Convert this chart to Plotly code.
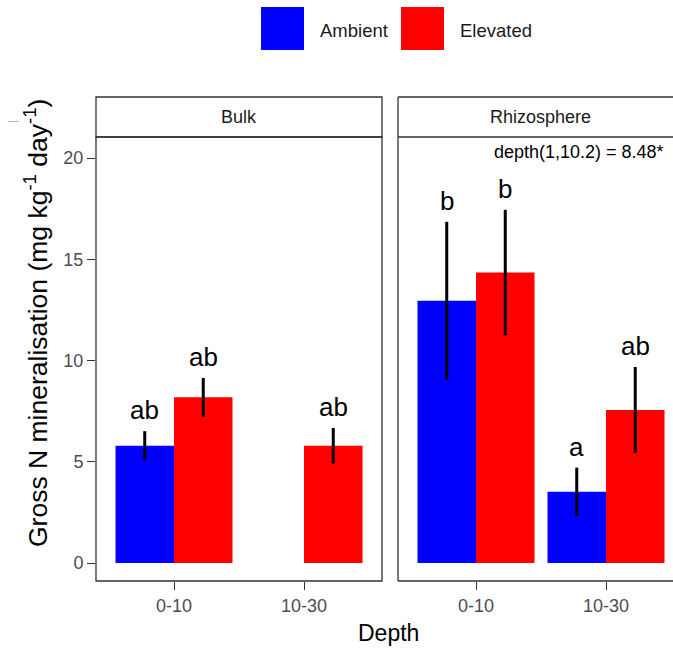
import plotly.graph_objects as go

W, H = 673, 650
FONT = "Liberation Sans"

depths = ["0-10", "10-30"]
treatments = ["Ambient", "Elevated"]
colors = {"Ambient": "#0000FF", "Elevated": "#FF0000"}

bulk_ambient = [5.79, None]
bulk_ambient_se = [0.72, None]
bulk_elevated = [8.18, 5.79]
bulk_elevated_se = [0.96, 0.88]
rhizo_ambient = [12.95, 3.52]
rhizo_ambient_se = [3.90, 1.19]
rhizo_elevated = [14.34, 7.56]
rhizo_elevated_se = [3.10, 2.12]

bulk_ambient_lab = ["ab", ""]
bulk_elevated_lab = ["ab", "ab"]
rhizo_ambient_lab = ["b", "a"]
rhizo_elevated_lab = ["b", "ab"]

facets = ["Bulk", "Rhizosphere"]
stat_text = "depth(1,10.2) = 8.48*"
y_ticks = [0, 5, 10, 15, 20]


def px(x):
    return x / W


def py(y):
    return 1 - y / H


fig = go.Figure()

panels = [
    ("x", "y", [(bulk_ambient, bulk_ambient_se, bulk_ambient_lab, "Ambient"),
                (bulk_elevated, bulk_elevated_se, bulk_elevated_lab, "Elevated")]),
    ("x2", "y2", [(rhizo_ambient, rhizo_ambient_se, rhizo_ambient_lab, "Ambient"),
                  (rhizo_elevated, rhizo_elevated_se, rhizo_elevated_lab, "Elevated")]),
]

annotations = []
for xa, ya, series in panels:
    for vals, se, labs, name in series:
        fig.add_trace(go.Bar(
            x=depths, y=vals, name=name, xaxis=xa, yaxis=ya,
            marker=dict(color=colors[name], line=dict(width=0)),
            error_y=dict(type="data", array=se, visible=True, color="black",
                         thickness=3, width=0),
            showlegend=False, offsetgroup=name, hoverinfo="skip",
        ))
        shift = -29.25 if name == "Ambient" else 29.25
        for d, v, e, lab in zip(depths, vals, se, labs):
            if v is None or not lab:
                continue
            annotations.append(dict(
                x=d, y=v + e, xref=xa, yref=ya, text=lab, showarrow=False,
                xshift=shift, yshift=4, yanchor="bottom", xanchor="center",
                font=dict(family=FONT, size=26, color="black"),
            ))

# stat annotation in rhizosphere panel
annotations.append(dict(
    x=0.79, y=20.3, xref="x2", yref="y2", text=stat_text, showarrow=False,
    xanchor="center", yanchor="middle",
    font=dict(family=FONT, size=18, color="black"),
))

# strip labels
annotations.append(dict(x=px(239), y=py(117), xref="paper", yref="paper",
                        text=facets[0], showarrow=False,
                        xanchor="center", yanchor="middle",
                        font=dict(family=FONT, size=18, color="#1A1A1A")))
annotations.append(dict(x=px(540), y=py(117), xref="paper", yref="paper",
                        text=facets[1], showarrow=False,
                        xanchor="center", yanchor="middle",
                        font=dict(family=FONT, size=18, color="#1A1A1A")))

# axis titles
annotations.append(dict(x=px(36), y=py(323), xref="paper", yref="paper",
                        text="Gross N mineralisation (mg kg<sup>-1</sup> day<sup>-1</sup>)",
                        textangle=-90, showarrow=False,
                        xanchor="center", yanchor="middle",
                        font=dict(family=FONT, size=26.5, color="black")))
annotations.append(dict(x=px(389), y=py(633), xref="paper", yref="paper",
                        text="Depth", showarrow=False,
                        xanchor="center", yanchor="middle",
                        font=dict(family=FONT, size=23, color="black")))

# legend
legend_items = [("Ambient", 261, 318), ("Elevated", 401, 458)]
shapes = []
for name, x0, tx in legend_items:
    shapes.append(dict(type="rect", xref="paper", yref="paper",
                       x0=px(x0), x1=px(x0 + 43), y0=py(50), y1=py(7),
                       fillcolor=colors[name], line=dict(width=0)))
    annotations.append(dict(x=px(tx), y=py(30), xref="paper", yref="paper",
                            text=name, showarrow=False, xanchor="left",
                            yanchor="middle",
                            font=dict(family=FONT, size=18.5, color="#1A1A1A")))

BORDER = "#333333"
# left panel border
shapes.append(dict(type="rect", xref="paper", yref="paper",
                   x0=px(96), x1=px(382), y0=py(581), y1=py(137),
                   line=dict(color=BORDER, width=1.3)))
# left strip
shapes.append(dict(type="rect", xref="paper", yref="paper",
                   x0=px(96), x1=px(382), y0=py(137), y1=py(97),
                   line=dict(color=BORDER, width=1.3)))
# right panel (clipped at right edge): left, top, bottom lines
for (x0, y0, x1, y1) in [(398, 581, 398, 97), (398, 581, 673, 581),
                         (398, 137, 673, 137), (398, 97, 673, 97)]:
    shapes.append(dict(type="line", xref="paper", yref="paper",
                       x0=px(x0), x1=px(x1), y0=py(y0), y1=py(y1),
                       line=dict(color=BORDER, width=1.3)))
# small grey dash at top-left
shapes.append(dict(type="line", xref="paper", yref="paper",
                   x0=px(8), x1=px(19), y0=py(121.5), y1=py(121.5),
                   line=dict(color="#BBBBBB", width=1)))

ydom = [py(581), py(137)]
yrange = [-0.889, 21.037]
tickfont = dict(family=FONT, size=18, color="#4D4D4D")

fig.update_layout(
    width=W, height=H,
    margin=dict(l=0, r=0, t=0, b=0),
    paper_bgcolor="white", plot_bgcolor="white",
    barmode="group", bargap=0.1, bargroupgap=0,
    showlegend=False, hovermode=False,
    xaxis=dict(domain=[px(96), px(382)], type="category", range=[-0.6, 1.6],
               showgrid=False, zeroline=False, ticks="outside", ticklen=8,
               tickwidth=1.3, tickcolor=BORDER, tickfont=tickfont, anchor="y"),
    xaxis2=dict(domain=[px(398), 1.0], type="category",
                range=[-0.6, -0.6 + (673 - 398) / 130.0],
                showgrid=False, zeroline=False, ticks="outside", ticklen=8,
                tickwidth=1.3, tickcolor=BORDER, tickfont=tickfont, anchor="y2"),
    yaxis=dict(domain=ydom, range=yrange, tickvals=y_ticks, showgrid=False,
               zeroline=False, ticks="outside", ticklen=8, tickwidth=1.3,
               tickcolor=BORDER, tickfont=tickfont, anchor="x"),
    yaxis2=dict(domain=ydom, range=yrange, showgrid=False, zeroline=False,
                showticklabels=False, ticks="", anchor="x2", matches="y"),
    annotations=annotations,
    shapes=shapes,
)

fig.write_html("out.html",
               config={"displayModeBar": False},
               post_script="document.body.style.margin='0px';document.body.style.overflow='hidden';")
